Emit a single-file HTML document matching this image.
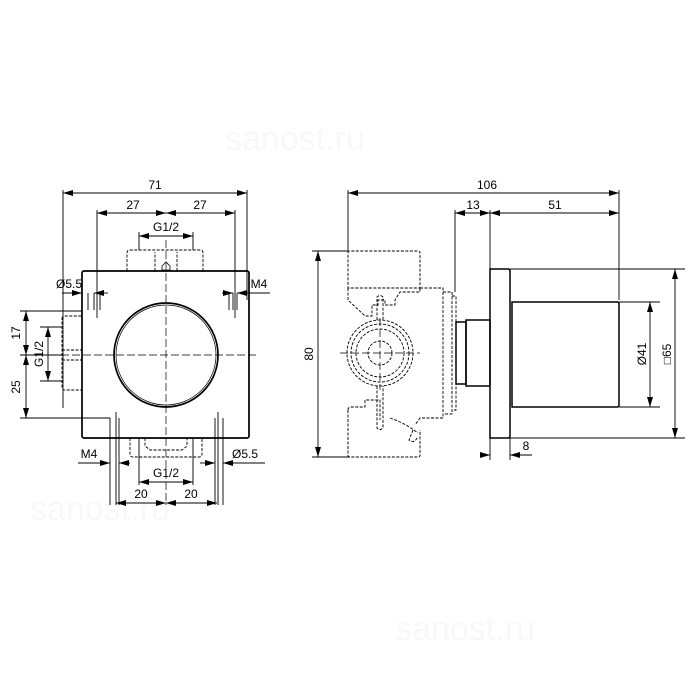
<!DOCTYPE html>
<html><head><meta charset="utf-8"><style>html,body{margin:0;padding:0;background:#fff}svg{display:block}</style></head><body>
<svg width="700" height="700" viewBox="0 0 700 700" xmlns="http://www.w3.org/2000/svg" font-family="Liberation Sans, sans-serif" font-size="12" fill="none" stroke="#000">
<defs>
<marker id="a" viewBox="0 0 10 6" refX="10" refY="3" markerWidth="10" markerHeight="6" orient="auto-start-reverse" markerUnits="userSpaceOnUse"><path d="M0,0L10,3L0,6z" fill="#000" stroke="none"/></marker>
</defs>
<g fill="#f8f8f8" stroke="none" font-size="34">
<text x="225" y="150">sanost.ru</text><text x="30" y="520">sanost.ru</text><text x="395" y="640">sanost.ru</text>
</g>
<!-- LEFT VIEW -->
<g stroke-width="1.7">
<rect x="82" y="271" width="167" height="167" rx="2"/>
<circle cx="166" cy="355" r="52"/>
</g>
<circle cx="166" cy="355" r="50" stroke-width="0.7"/>
<g stroke-width="0.9" stroke-dasharray="3,1.5">
<path d="M127,271V253q0-3 3-3H200q3 0 3 3V271"/>
<path d="M155,271V252M177,271V252"/>
<path d="M62,319q0-3 3-3H82V390H65q-3 0-3-3Z" />
<path d="M62,350H82M62,360H82"/>
<path d="M130,438V454q0 3 3 3H199q3 0 3-3V438"/>
<path d="M145,438V446L150,450H182L187,446V438"/>
</g>
<path d="M166,262L162,266V270H170V266Z" stroke-width="0.8"/>
<g stroke-width="0.7" stroke-dasharray="8,3">
<path d="M166,240V505M50,355H258"/>
</g>
<g stroke-width="0.9">
<path d="M63,190V408M247,190V300M97,210V318M235,210V318M139,232V250M193,232V250"/>
<path d="M88,293V310M94,293V310M100,293V310M229,293V310M233,293V310M237,293V310"/>
<path d="M110,418V505M116,412V505M119,418V505M215,418V505M218,412V505M223,418V505"/>
<path d="M20,311H82M20,418H110M40,327H62M40,381H62M20,355H62"/>
<path d="M139,438V485M193,438V485"/>
<line x1="63" y1="193" x2="247" y2="193" marker-start="url(#a)" marker-end="url(#a)"/>
<line x1="97" y1="213" x2="166" y2="213" marker-start="url(#a)" marker-end="url(#a)"/>
<line x1="166" y1="213" x2="235" y2="213" marker-start="url(#a)" marker-end="url(#a)"/>
<line x1="139" y1="236" x2="193" y2="236" marker-start="url(#a)" marker-end="url(#a)"/>
<line x1="62" y1="293" x2="82" y2="293" marker-end="url(#a)"/><line x1="108" y1="293" x2="94" y2="293" marker-end="url(#a)"/>
<line x1="222" y1="293" x2="233" y2="293" marker-end="url(#a)"/><line x1="270" y1="293" x2="237" y2="293" marker-end="url(#a)"/>
<line x1="26" y1="311" x2="26" y2="355" marker-start="url(#a)" marker-end="url(#a)"/>
<line x1="26" y1="355" x2="26" y2="418" marker-start="url(#a)" marker-end="url(#a)"/>
<line x1="48" y1="327" x2="48" y2="381" marker-start="url(#a)" marker-end="url(#a)"/>
<line x1="78" y1="463" x2="110" y2="463" marker-end="url(#a)"/><line x1="130" y1="463" x2="119" y2="463" marker-end="url(#a)"/>
<line x1="200" y1="463" x2="215" y2="463" marker-end="url(#a)"/><line x1="265" y1="463" x2="223" y2="463" marker-end="url(#a)"/>
<line x1="139" y1="482" x2="193" y2="482" marker-start="url(#a)" marker-end="url(#a)"/>
<line x1="116" y1="503" x2="166" y2="503" marker-start="url(#a)" marker-end="url(#a)"/>
<line x1="166" y1="503" x2="217" y2="503" marker-start="url(#a)" marker-end="url(#a)"/>
</g>
<g fill="#000" stroke="none" text-anchor="middle">
<text x="155" y="189">71</text><text x="133" y="209">27</text><text x="200" y="209">27</text>
<text x="166" y="231">G1/2</text><text x="69" y="288">Ø5.5</text><text x="259" y="288">M4</text>
<text x="166" y="477">G1/2</text><text x="89" y="458">M4</text><text x="245" y="458">Ø5.5</text>
<text x="141" y="498">20</text><text x="191" y="498">20</text>
<text transform="translate(20,333) rotate(-90)">17</text>
<text transform="translate(20,387) rotate(-90)">25</text>
<text transform="translate(43,354) rotate(-90)">G1/2</text>
</g>
<!-- RIGHT VIEW -->
<g stroke-width="0.9" stroke-dasharray="3,1.5">
<path d="M348,253q0-2 2-2H418q2 0 2 2V288H348Z"/>
<path d="M348,288V300L365,316H372V305H378V300H385V305H395V300L400,292H420V288"/>
<path d="M420,288H443V418H420L415,425M348,410q0-3 3-3H365V400H380V420"/>
<path d="M348,410V455q0 2 2 2H418q2 0 2-2V430"/>
<path d="M443,292H452V414H443"/><path d="M452,296H456V410H452"/>
<circle cx="380" cy="353" r="33"/><circle cx="380" cy="353" r="29"/><circle cx="380" cy="353" r="24"/><circle cx="380" cy="353" r="12"/>
<path d="M377,320V297q3-3 6 0V320M377,386V428q3 3 6 0V386"/>
<path d="M390,418q15 5 28 15M413,430l-4,10q5 4 8-2"/>
</g>
<g stroke-width="1.5">
<path d="M456,322H466V384H456Z"/><path d="M466,320H490V386H466Z"/>
<path d="M490,269H508q2 0 2 2V436q0 2-2 2H490Z"/>
<path d="M512,302H617q2 0 2 2V405q0 2-2 2H512Z"/>
</g>
<path d="M510,304V405" stroke-width="0.7"/>
<g stroke-width="0.7" stroke-dasharray="8,3"><path d="M340,353H420"/><path d="M380,318V390"/></g>
<g stroke-width="0.9">
<path d="M348,190V251M619,190V300M455,210V292M490,210V269"/>
<path d="M312,251H348M312,457H350M619,302H660M619,407H660M510,269H685M510,438H685M490,438V460M510,438V460"/>
<line x1="348" y1="193" x2="619" y2="193" marker-start="url(#a)" marker-end="url(#a)"/>
<line x1="455" y1="213" x2="490" y2="213" marker-start="url(#a)" marker-end="url(#a)"/>
<line x1="490" y1="213" x2="619" y2="213" marker-start="url(#a)" marker-end="url(#a)"/>
<line x1="318" y1="251" x2="318" y2="457" marker-start="url(#a)" marker-end="url(#a)"/>
<line x1="650" y1="302" x2="650" y2="407" marker-start="url(#a)" marker-end="url(#a)"/>
<line x1="675" y1="269" x2="675" y2="438" marker-start="url(#a)" marker-end="url(#a)"/>
<line x1="480" y1="455" x2="490" y2="455" marker-end="url(#a)"/><line x1="532" y1="455" x2="510" y2="455" marker-end="url(#a)"/>
</g>
<g fill="#000" stroke="none" text-anchor="middle">
<text x="487" y="189">106</text><text x="473" y="209">13</text><text x="555" y="209">51</text>
<text x="526" y="450">8</text>
<text transform="translate(313,354) rotate(-90)">80</text>
<text transform="translate(646,354) rotate(-90)">Ø41</text>
<text transform="translate(671,354) rotate(-90)">□65</text>
</g>
</svg>
</body></html>
